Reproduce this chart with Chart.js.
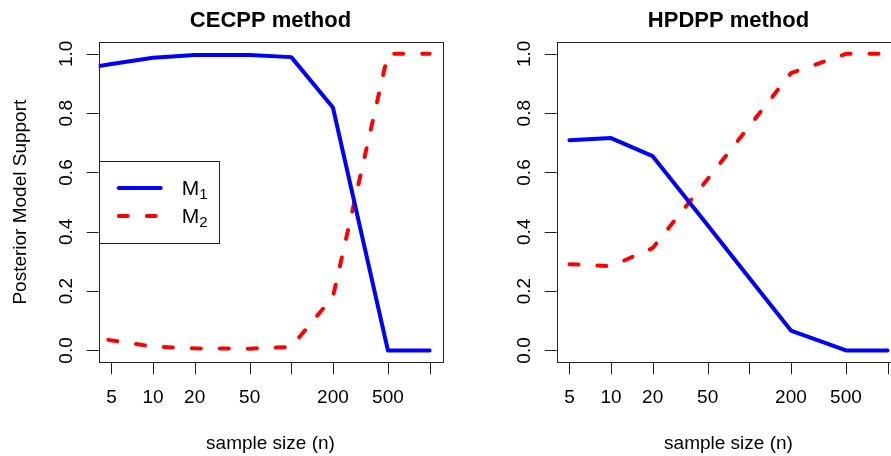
<!DOCTYPE html>
<html>
<head>
<meta charset="utf-8">
<script src="https://cdn.jsdelivr.net/npm/chart.js@4"></script>
<style>
html, body { margin: 0; padding: 0; background: #fff; overflow: hidden; }
body { width: 891px; height: 456px; position: relative; }
.panel { position: absolute; top: 0; }
#wrapLeft { left: 0; width: 445px; height: 456px; }
#wrapRight { left: 445px; width: 460px; height: 456px; }
</style>
</head>
<body>
<div class="panel" id="wrapLeft"><canvas id="cecpp" width="445" height="456"></canvas></div>
<div class="panel" id="wrapRight"><canvas id="hpdpp" width="460" height="456"></canvas></div>
<script>
// CECPP panel (first size sits left of the plot edge and gets clipped)
var cecppSizes = [3, 5, 10, 20, 50, 100, 200, 500, 1000];
var cecppM1 = [0.949, 0.966, 0.987, 0.996, 0.996, 0.989, 0.819, 0.0, 0.0];
var cecppM2 = [0.051, 0.034, 0.013, 0.007, 0.006, 0.012, 0.181, 1.0, 1.0];

// HPDPP panel
var hpdppSizes = [5, 10, 20, 50, 100, 200, 500, 1000];
var hpdppM1 = [0.709, 0.716, 0.655, 0.422, 0.244, 0.067, 0.0, 0.0];
var hpdppM2 = [0.291, 0.284, 0.345, 0.578, 0.756, 0.935, 1.0, 1.0];

var panelTitles = ['CECPP method', 'HPDPP method'];
var xTitle = 'sample size (n)';
var yTitle = 'Posterior Model Support';
var xTicks = [5, 10, 20, 50, 100, 200, 500, 1000];
var xTickLabels = ['5', '10', '20', '50', '', '200', '500', ''];
var yTicks = [0, 0.2, 0.4, 0.6, 0.8, 1.0];
var yTickLabels = ['0.0', '0.2', '0.4', '0.6', '0.8', '1.0'];
var seriesLetter = 'M';
var seriesSubs = ['1', '2'];

var FONT = '"Liberation Sans", Arial, Helvetica, sans-serif';
var BLUE = '#0000ff';
var RED = '#ff0000';

// R style 4% extension of the axis range
var logLo = Math.log10(xTicks[0]), logHi = Math.log10(xTicks[xTicks.length - 1]);
var xMin = Math.pow(10, logLo - 0.04 * (logHi - logLo));
var xMax = Math.pow(10, logHi + 0.04 * (logHi - logLo));

function toPoints(xs, ys) {
    var pts = [];
    for (var i = 0; i < xs.length; i++) pts.push({x: xs[i], y: ys[i]});
    return pts;
}

function rAxesPlugin(title, showYTitle, showLegend) {
    return {
        id: 'rAxes',
        afterDraw: function(chart) {
            var ctx = chart.ctx;
            var a = chart.chartArea;
            var xs = chart.scales.x, ys = chart.scales.y;
            ctx.save();
            ctx.strokeStyle = '#222';
            ctx.lineWidth = 1;
            // box
            ctx.strokeRect(Math.round(a.left) + 0.5, Math.round(a.top) + 0.5,
                Math.round(a.right - a.left), Math.round(a.bottom - a.top));

            // x axis ticks
            ctx.beginPath();
            for (var i = 0; i < xTicks.length; i++) {
                var px = Math.round(xs.getPixelForValue(xTicks[i])) + 0.5;
                ctx.moveTo(px, a.bottom);
                ctx.lineTo(px, a.bottom + 12);
            }
            // y axis ticks
            for (var j = 0; j < yTicks.length; j++) {
                var py = Math.round(ys.getPixelForValue(yTicks[j])) + 0.5;
                ctx.moveTo(a.left, py);
                ctx.lineTo(a.left - 12, py);
            }
            ctx.stroke();

            ctx.fillStyle = '#000';
            ctx.font = '19px ' + FONT;
            ctx.textAlign = 'center';
            ctx.textBaseline = 'alphabetic';
            for (var k = 0; k < xTicks.length; k++) {
                if (xTickLabels[k]) ctx.fillText(xTickLabels[k], xs.getPixelForValue(xTicks[k]), a.bottom + 41);
            }
            for (var m = 0; m < yTicks.length; m++) {
                ctx.save();
                ctx.translate(a.left - 27, ys.getPixelForValue(yTicks[m]));
                ctx.rotate(-Math.PI / 2);
                ctx.fillText(yTickLabels[m], 0, 0);
                ctx.restore();
            }
            var cx = (a.left + a.right) / 2;
            ctx.fillText(xTitle, cx, a.bottom + 87);
            if (showYTitle) {
                ctx.save();
                ctx.translate(a.left - 73, (a.top + a.bottom) / 2);
                ctx.rotate(-Math.PI / 2);
                ctx.fillText(yTitle, 0, 0);
                ctx.restore();
            }
            ctx.font = 'bold 22px ' + FONT;
            ctx.fillText(title, cx, 27);

            if (showLegend) {
                var lx = a.left, ly = a.top + 119;
                ctx.fillStyle = '#fff';
                ctx.fillRect(lx, ly, 120, 82);
                ctx.strokeStyle = '#222';
                ctx.lineWidth = 1;
                ctx.strokeRect(Math.round(lx) + 0.5, Math.round(ly) + 0.5, 120, 82);
                var ds = chart.data.datasets;
                for (var s = 0; s < ds.length; s++) {
                    var yy = ly + 27 + s * 28;
                    ctx.beginPath();
                    ctx.strokeStyle = ds[s].borderColor;
                    ctx.lineWidth = ds[s].borderWidth;
                    ctx.lineCap = 'round';
                    ctx.setLineDash(ds[s].borderDash || []);
                    ctx.moveTo(lx + 20, yy);
                    ctx.lineTo(lx + 62, yy);
                    ctx.stroke();
                    ctx.setLineDash([]);
                    ctx.fillStyle = '#000';
                    ctx.textAlign = 'left';
                    ctx.font = '21px ' + FONT;
                    ctx.fillText(seriesLetter, lx + 83, yy + 7);
                    var w = ctx.measureText(seriesLetter).width;
                    ctx.font = '15px ' + FONT;
                    ctx.fillText(seriesSubs[s], lx + 83 + w, yy + 11);
                }
            }
            ctx.restore();
        }
    };
}

function makePanel(canvasId, sizes, m1, m2, title, pad, showYTitle, showLegend) {
    var ctx = document.getElementById(canvasId).getContext('2d');
    return new Chart(ctx, {
        type: 'line',
        data: {
            datasets: [
                {label: 'M1', data: toPoints(sizes, m1), borderColor: BLUE, borderWidth: 4,
                 pointRadius: 0, tension: 0, fill: false, clip: 0,
                 borderCapStyle: 'round', borderJoinStyle: 'round'},
                {label: 'M2', data: toPoints(sizes, m2), borderColor: RED, borderWidth: 4,
                 borderDash: [9, 19], pointRadius: 0, tension: 0, fill: false, clip: 0,
                 borderCapStyle: 'round', borderJoinStyle: 'round'}
            ]
        },
        options: {
            responsive: false,
            animation: false,
            devicePixelRatio: 1,
            layout: {padding: pad},
            plugins: {legend: {display: false}, title: {display: false}, tooltip: {enabled: false}},
            scales: {
                x: {type: 'logarithmic', min: xMin, max: xMax, display: false},
                y: {type: 'linear', min: -0.04, max: 1.04, display: false}
            }
        },
        plugins: [rAxesPlugin(title, showYTitle, showLegend)]
    });
}

makePanel('cecpp', cecppSizes, cecppM1, cecppM2, panelTitles[0],
    {left: 98.7, top: 42, right: 2.7, bottom: 93.7}, true, true);
makePanel('hpdpp', hpdppSizes, hpdppM1, hpdppM2, panelTitles[1],
    {left: 111.7, top: 42, right: 4.7, bottom: 93.7}, false, false);
</script>
</body>
</html>
